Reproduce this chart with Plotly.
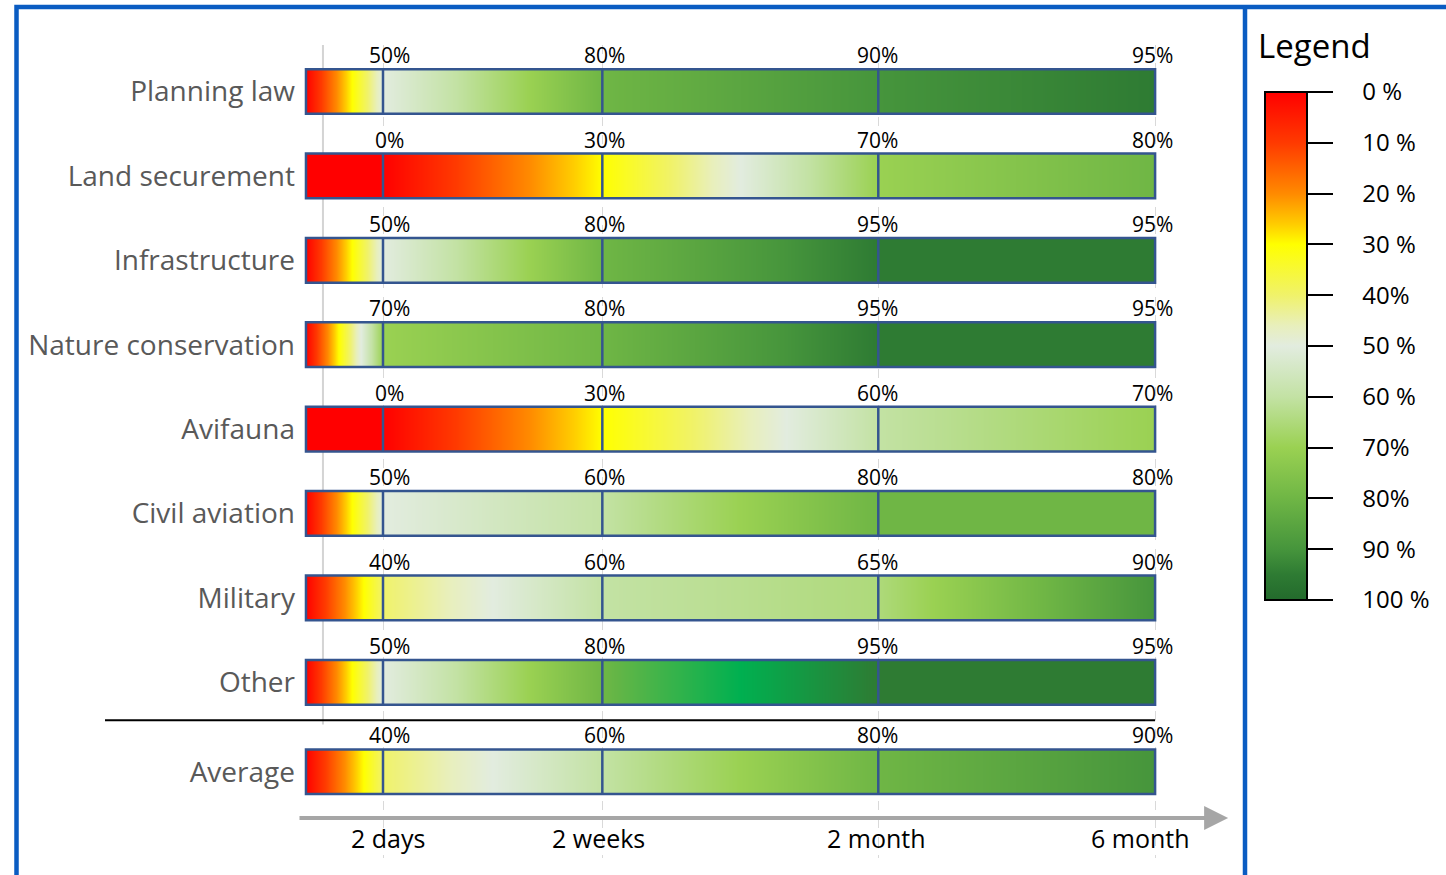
import numpy as np
import plotly.graph_objects as go

# ---- data -------------------------------------------------------------
categories = ["Planning law", "Land securement", "Infrastructure",
              "Nature conservation", "Avifauna", "Civil aviation",
              "Military", "Other", "Average"]

# completion (%) reached at each milestone
pct_2days = [50, 0, 50, 70, 0, 50, 40, 50, 40]
pct_2weeks = [80, 30, 80, 80, 30, 60, 60, 80, 60]
pct_2month = [90, 70, 95, 95, 60, 80, 65, 95, 80]
pct_6month = [95, 80, 95, 95, 70, 80, 90, 95, 90]

milestones = ["2 days", "2 weeks", "2 month", "6 month"]
milestone_pos = [9.07, 34.9, 67.4, 100.0]   # position on the time axis
row_pos = [0, 1, 2, 3, 4, 5, 6, 7, 8.06]   # vertical slot of each row

legend_ticks = [0, 10, 20, 30, 40, 50, 60, 70, 80, 90, 100]
legend_text = ["0 %", "10 %", "20 %", "30 %", "40%", "50 %", "60 %",
               "70%", "80%", "90 %", "100 %"]

# ---- styling ----------------------------------------------------------
FONT = "Open Sans"
BAR_H = 0.265          # half height of a bar in row units
BAR_EDGE = "#34558f"
FRAME = "#0a5cc2"

# red -> yellow -> pale -> green (value in %, colour)
ramp = [(0, "#ff0000"), (10, "#ff3a00"), (20, "#ff8a00"), (26, "#ffcc00"),
        (30, "#ffff00"), (40, "#f0f26a"), (46, "#e8efbc"), (50, "#e2ecdf"),
        (60, "#c3e2a4"), (70, "#9ad152"), (80, "#6fb645"), (90, "#46953c"),
        (95, "#2e7b33"), (100, "#236a2c")]
# the colour axis runs on -pct so that 0 % sits at the top of the colour bar
colorscale = sorted([[1 - v / 100.0, c] for v, c in ramp])

# the "Other" row passes through a vivid green between 2 weeks and 2 month
accent_row, accent_stage = "Other", 2
accent_scale = [[0, "#6fb645"], [0.5, "#00b050"], [1, "#2e7b33"]]

# ---- plot geometry -----------------------------------------------------
W, H = 1446, 875
L, R, T, B = 298, 206, 45, 17
x_range = [-0.94, 110.0]
y_range = [9.082, -0.551]


def xpaper(xv):
    return (xv - x_range[0]) / (x_range[1] - x_range[0])


def px_x(p):
    return (p - L) / (W - L - R)


def px_y(p):
    return 1 - (p - T) / (H - T - B)


# ---- gradient fill of the bars ---------------------------------------
n_cols = 850
x_edges = np.linspace(0, milestone_pos[-1], n_cols + 1)
x_mid = 0.5 * (x_edges[:-1] + x_edges[1:])
stage_x = [0.0] + milestone_pos

y_edges, z = [], []
for i in range(len(categories)):
    vals = [0, pct_2days[i], pct_2weeks[i], pct_2month[i], pct_6month[i]]
    if i > 0:
        z.append([None] * n_cols)          # transparent gap between bars
    y_edges += [row_pos[i] - BAR_H, row_pos[i] + BAR_H]
    z.append(list(-np.interp(x_mid, stage_x, vals)))

fig = go.Figure()
fig.add_trace(go.Heatmap(
    x=x_edges, y=y_edges, z=z, zmin=-100, zmax=0,
    colorscale=colorscale, hoverinfo="skip",
    colorbar=dict(
        x=px_x(1265), xanchor="left", xpad=0,
        y=px_y(92), yanchor="top", ypad=0,
        lenmode="pixels", len=508, thickness=42,
        outlinewidth=2, outlinecolor="black",
        tickmode="array", tickvals=[-v for v in legend_ticks],
        ticktext=["\u00a0" * 4 + t for t in legend_text],
        ticks="outside", ticklen=25, tickwidth=2, tickcolor="black",
        tickfont=dict(family=FONT, size=24, color="black"),
    ),
))

# accent overlay on one segment of the "Other" row
ai = categories.index(accent_row)
seg_lo, seg_hi = stage_x[accent_stage], stage_x[accent_stage + 1]
seg_edges = np.linspace(seg_lo, seg_hi, 301)
seg_mid = 0.5 * (seg_edges[:-1] + seg_edges[1:])
fig.add_trace(go.Heatmap(
    x=seg_edges, y=[row_pos[ai] - BAR_H, row_pos[ai] + BAR_H],
    z=[list((seg_mid - seg_lo) / (seg_hi - seg_lo))], zmin=0, zmax=1,
    colorscale=accent_scale, showscale=False, hoverinfo="skip",
))

shapes = []
annotations = []

label_shift = [6, 2, -1, -3]
# outline of each bar and the milestone dividers inside it
for i, name in enumerate(categories):
    yc = row_pos[i]
    shapes.append(dict(type="rect", xref="x", yref="y", x0=0, x1=milestone_pos[-1],
                       y0=yc - BAR_H, y1=yc + BAR_H,
                       line=dict(color=BAR_EDGE, width=2.5)))
    for xp in milestone_pos[:-1]:
        shapes.append(dict(type="line", xref="x", yref="y", x0=xp, x1=xp,
                           y0=yc - BAR_H, y1=yc + BAR_H,
                           line=dict(color=BAR_EDGE, width=2.5)))
    vals = [pct_2days[i], pct_2weeks[i], pct_2month[i], pct_6month[i]]
    for xp, v, dx in zip(milestone_pos, vals, label_shift):
        annotations.append(dict(x=xp, y=yc - BAR_H, xref="x", yref="y",
                                text=f"{v}%", showarrow=False, yanchor="bottom",
                                yshift=-2, xshift=dx,
                                font=dict(family=FONT, size=21, color="black")))

# light left guide line
shapes.append(dict(type="line", xref="x", yref="y", x0=2.0, x1=2.0,
                   y0=y_range[1], y1=7.5, layer="below",
                   line=dict(color="#d4d4d4", width=2)))
# separator above the average row
shapes.append(dict(type="line", xref="paper", yref="y",
                   x0=px_x(105), x1=xpaper(milestone_pos[-1]), y0=7.45, y1=7.45,
                   line=dict(color="black", width=2)))
# frame and divider of the legend panel
shapes.append(dict(type="rect", xref="paper", yref="paper",
                   x0=px_x(16.5), x1=px_x(1460), y0=px_y(7), y1=px_y(900),
                   line=dict(color=FRAME, width=4.5), layer="below"))
shapes.append(dict(type="line", xref="paper", yref="paper",
                   x0=px_x(1245), x1=px_x(1245), y0=px_y(7), y1=px_y(900),
                   line=dict(color=FRAME, width=4.5)))

# time axis arrow
annotations.append(dict(x=108.6, y=8.608, ax=x_range[0], ay=8.608,
                        xref="x", yref="y", axref="x", ayref="y",
                        text="", showarrow=True, arrowhead=2, arrowsize=1.2,
                        arrowwidth=4, arrowcolor="#a6a6a6"))
tick_shift = [5, -4, -2, -15]
for xp, lab, dx in zip(milestone_pos, milestones, tick_shift):
    annotations.append(dict(x=xp, y=8.845, xref="x", yref="y", text=lab,
                            showarrow=False, xshift=dx,
                            font=dict(family=FONT, size=25, color="black")))

annotations.append(dict(x=px_x(1256), y=px_y(45), xref="paper", yref="paper",
                        text="Legend", showarrow=False, xanchor="left",
                        yanchor="middle",
                        font=dict(family=FONT, size=33, color="black")))

fig.update_layout(
    width=W, height=H,
    margin=dict(l=L, r=R, t=T, b=B, autoexpand=False),
    paper_bgcolor="white", plot_bgcolor="white",
    showlegend=False,
    shapes=shapes, annotations=annotations,
    xaxis=dict(range=x_range, tickmode="array", tickvals=milestone_pos,
               showticklabels=False, showgrid=True, gridcolor="#d9d9d9",
               griddash="dash", gridwidth=1, zeroline=False, showline=False),
    yaxis=dict(range=y_range, tickmode="array", tickvals=row_pos,
               ticktext=categories, showgrid=False, zeroline=False,
               ticks="", ticklabelstandoff=2,
               tickfont=dict(family=FONT, size=28, color="#595959")),
)

fig.write_html("out.html")
